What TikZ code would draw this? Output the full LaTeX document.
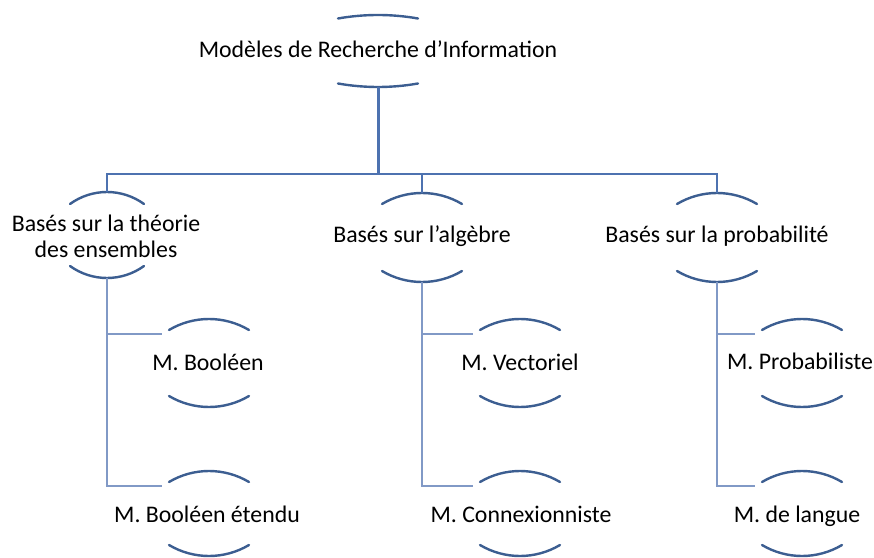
\documentclass[tikz,border=0pt]{standalone}
\usepackage{fontspec}
\setmainfont{Carlito}
\begin{document}
\begin{tikzpicture}[x=1bp,y=-1bp,
  lbl/.style={inner sep=0pt,anchor=base,font=\fontsize{23.8bp}{26bp}\selectfont,text=black},
  arcline/.style={draw=arcblue,line width=2.4bp,line cap=round},
  trunk/.style={draw=linkblue,line width=3bp},
  busline/.style={draw=linkblue,line width=2bp,line join=miter},
  twig/.style={draw=twigblue,line width=1.6bp,line join=miter}]
\definecolor{arcblue}{HTML}{3C5E91}
\definecolor{linkblue}{HTML}{4D72B0}
\definecolor{twigblue}{HTML}{8199C6}
\useasboundingbox (0,0) rectangle (874,558);
% #1 name, #2 centre x, #3 top arc middle y, #4 bottom arc middle y,
% #5 half chord, #6 sag of the circular arcs (y axis points down)
\newcommand{\caparcs}[6]{%
  \pgfmathsetmacro\capR{(#5*#5+#6*#6)/(2*#6)}%
  \pgfmathsetmacro\capT{asin(#5/\capR)}%
  \draw[arcline] ({#2-#5},{#3+#6})
    arc[start angle={270-\capT}, end angle={270+\capT}, radius=\capR];
  \draw[arcline] ({#2-#5},{#4-#6})
    arc[start angle={90+\capT}, end angle={90-\capT}, radius=\capR];
  \coordinate (#1-t) at (#2,#3);
  \coordinate (#1-b) at (#2,#4);
  \coordinate (#1-s) at ({#2-47},{#3+15});
}

% root
\node[lbl] (root) at (378,58) {Modèles de Recherche d’Information};
\caparcs{root}{378}{15}{87}{40}{3.5}

% second level (a two-line label sits on the baseline of its last line)
\node[lbl,align=center] (ens) at (106,258) {Basés sur la théorie\\des ensembles};
\caparcs{ens}{107}{192}{278}{37}{12}
\node[lbl] (alg) at (422,243) {Basés sur l’algèbre};
\caparcs{alg}{422}{193}{282}{40}{11}
\node[lbl] (prob) at (717,243) {Basés sur la probabilité};
\caparcs{prob}{717}{193}{282}{40}{11}

% leaves
\node[lbl] (bool) at (208,370) {M. Booléen};
\caparcs{bool}{209}{319}{407}{40}{11}
\node[lbl] (boolx) at (207,522) {M. Booléen étendu};
\caparcs{boolx}{209}{471}{556}{40}{11}
\node[lbl] (vect) at (520,370) {M. Vectoriel};
\caparcs{vect}{520}{319}{407}{40}{11}
\node[lbl] (conn) at (521,522) {M. Connexionniste};
\caparcs{conn}{520}{471}{556}{40}{11}
\node[lbl] (pbm) at (800,369) {M. Probabiliste};
\caparcs{pbm}{802}{319}{407}{40}{11}
\node[lbl] (lang) at (797,522) {M. de langue};
\caparcs{lang}{802}{471}{556}{40}{11}

% connectors
\coordinate (bus) at (0,174);
\draw[trunk] (root-b) -- (root-b |- bus);
\draw[busline] (ens-t) -- (ens-t |- bus) -- (prob-t |- bus) -- (prob-t);
\draw[busline] (alg-t |- bus) -- (alg-t);

\draw[twig] (ens-b) -- (ens-b |- boolx-s) -- (boolx-s);
\draw[twig] (ens-b |- bool-s) -- (bool-s);
\draw[twig] (alg-b) -- (alg-b |- conn-s) -- (conn-s);
\draw[twig] (alg-b |- vect-s) -- (vect-s);
\draw[twig] (prob-b) -- (prob-b |- lang-s) -- (lang-s);
\draw[twig] (prob-b |- pbm-s) -- (pbm-s);
\end{tikzpicture}
\end{document}
